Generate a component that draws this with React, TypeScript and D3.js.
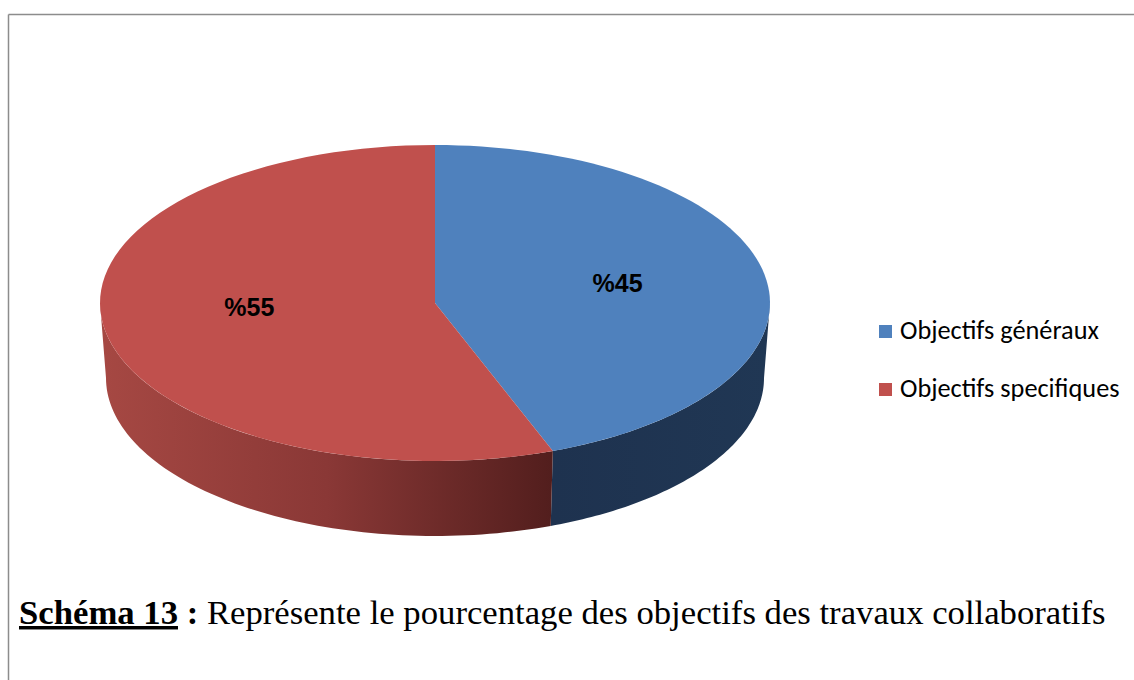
import React from 'react';
import * as d3 from 'd3';

const categories = ['Objectifs généraux', 'Objectifs specifiques'];
const values = [45, 55];
const labels = ['%45', '%55'];
const topColors = ['#4f81bd', '#c0504d'];

const W = 1134;
const H = 680;

// ellipse geometry of the 3D pie
const cx = 435;
const cy = 303;
const rx = 335;
const ry = 158;
const depth = 75;
const rxb = 329;
const ryb = 158;

// small perspective warp: front of the pie appears a little wider
const warp = (a: number) => a + 0.077 * Math.sin(2 * a);

const topPt = (a: number): [number, number] => [cx + rx * Math.sin(a), cy - ry * Math.cos(a)];
const botPt = (a: number): [number, number] => [cx + rxb * Math.sin(a), cy + depth - ryb * Math.cos(a)];

const sample = (a0: number, a1: number, n = 80) =>
  d3.range(n + 1).map(i => a0 + ((a1 - a0) * i) / n);

const line = d3.line<[number, number]>();

const App: React.FC = () => {
  const pie = d3.pie<number>().sort(null).startAngle(0).endAngle(2 * Math.PI);
  const arcs = pie(values);

  const slices = arcs.map((d, i) => {
    const a0 = warp(d.startAngle);
    const a1 = warp(d.endAngle);
    const top = line([[cx, cy], ...sample(a0, a1).map(topPt)]) + 'Z';
    const s0 = Math.max(a0, Math.PI / 2);
    const s1 = Math.min(a1, (3 * Math.PI) / 2);
    let side: string | null = null;
    if (s1 > s0) {
      const pts = [...sample(s0, s1).map(topPt), ...sample(s0, s1).reverse().map(botPt)];
      side = line(pts) + 'Z';
    }
    const mid = warp((d.startAngle + d.endAngle) / 2);
    const lx = cx + rx * 0.55 * Math.sin(mid);
    const ly = cy - ry * 0.55 * Math.cos(mid) - 8;
    return { top, side, lx, ly, i };
  });

  return (
    <svg width={W} height={H} style={{ position: 'absolute', left: 0, top: 0, background: '#fff' }}>
      <defs>
        <linearGradient id="redSide" gradientUnits="userSpaceOnUse" x1={100} x2={553} y1={0} y2={0}>
          <stop offset="0" stopColor="#a64843" />
          <stop offset="0.5" stopColor="#8a3836" />
          <stop offset="1" stopColor="#521e1d" />
        </linearGradient>
        <linearGradient id="blueSide" gradientUnits="userSpaceOnUse" x1={553} x2={770} y1={0} y2={0}>
          <stop offset="0" stopColor="#1e324f" />
          <stop offset="1" stopColor="#203754" />
        </linearGradient>
      </defs>

      {/* frame */}
      <line x1={8.5} y1={14.5} x2={W} y2={14.5} stroke="#8c8c8c" strokeWidth={1.5} />
      <line x1={8.5} y1={14.5} x2={8.5} y2={H} stroke="#8c8c8c" strokeWidth={1.5} />

      {slices.map(s => s.side && (
        <path key={'s' + s.i} d={s.side} fill={s.i === 0 ? 'url(#blueSide)' : 'url(#redSide)'} />
      ))}
      {slices.map(s => (
        <path key={'t' + s.i} d={s.top} fill={topColors[s.i]} />
      ))}
      {slices.map(s => (
        <text key={'l' + s.i} x={s.lx - (s.i === 1 ? 3 : 0)} y={s.ly} textAnchor="middle" dominantBaseline="central"
          fontFamily="Liberation Sans, Arial, sans-serif" fontWeight="bold" fontSize={25} fill="#000">
          {labels[s.i]}
        </text>
      ))}

      {/* legend */}
      {categories.map((c, i) => (
        <g key={c} transform={`translate(879, ${325 + i * 58})`}>
          <rect width={13} height={13} fill={topColors[i]} />
          <text x={21} y={14} fontFamily="Carlito, Lato, sans-serif" fontSize={26.3} fill="#000">{c}</text>
        </g>
      ))}

      {/* caption */}
      <text x={19} y={624} fontFamily="Liberation Serif, Times New Roman, serif" fontSize={34.7} fill="#000">
        <tspan fontWeight="bold" textDecoration="underline">Schéma 13</tspan>
        <tspan fontWeight="bold"> : </tspan>
        <tspan>Représente le pourcentage des objectifs des travaux collaboratifs</tspan>
      </text>
    </svg>
  );
};

export default App;
